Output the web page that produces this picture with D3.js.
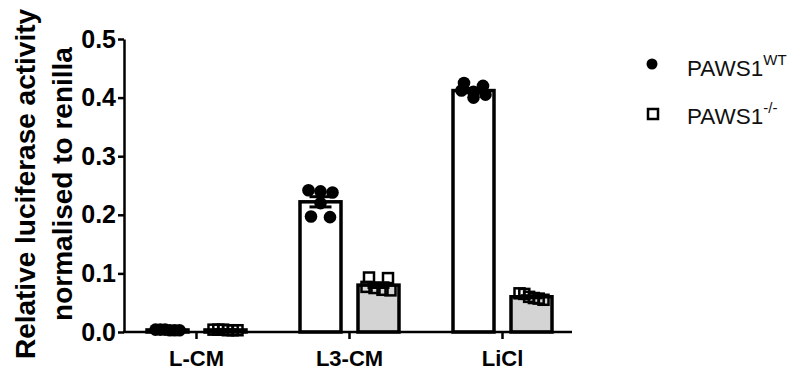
<!DOCTYPE html>
<html>
<head>
<meta charset="utf-8">
<script src="https://cdn.jsdelivr.net/npm/d3@7"></script>
<style>
  body { margin: 0; background: #fff; }
  svg { font-family: Arial, "Liberation Sans", sans-serif; }
</style>
</head>
<body>
<svg width="805" height="376"></svg>
<script>
// categories and genotypes
var categories = ["L-CM", "L3-CM", "LiCl"];
var genotypes = ["WT", "KO"];
var yTicks = [0.0, 0.1, 0.2, 0.3, 0.4, 0.5];

// replicate values
var wtValues = [
	[0.004, 0.003, 0.004, 0.003, 0.003, 0.004],
	[0.242, 0.240, 0.238, 0.220, 0.197, 0.196],
	[0.425, 0.420, 0.412, 0.410, 0.405, 0.400]
];
var koValues = [
	[0.004, 0.003, 0.004, 0.003, 0.004, 0.003],
	[0.093, 0.092, 0.077, 0.075, 0.072, 0.071],
	[0.066, 0.065, 0.060, 0.058, 0.057, 0.055]
];

var svg = d3.select("svg");

var y = d3.scaleLinear().domain([0, 0.5]).range([332, 39]);

var x = d3.scaleBand().domain(categories).range([120, 579]);

var xSub = d3.scaleBand().domain(genotypes).range([27, 126]).paddingInner(0.293);

// build the groups
var groups = [];
categories.forEach(function (c, i) {
	genotypes.forEach(function (g) {
		var vals = g === "WT" ? wtValues[i] : koValues[i];
		var mean = d3.mean(vals);
		var sem = d3.deviation(vals) / Math.sqrt(vals.length);
		groups.push({cat: c, geno: g, vals: vals, mean: mean, sem: sem});
	});
});

function barX(d) { return x(d.cat) + xSub(d.geno); }
function barCx(d) { return barX(d) + xSub.bandwidth() / 2; }

// bars
svg.append("g").selectAll("rect")
	.data(groups)
	.enter()
	.append("rect")
	.attr("x", barX)
	.attr("width", xSub.bandwidth())
	.attr("y", function (d) { return y(d.mean); })
	.attr("height", function (d) { return y(0) - y(d.mean); })
	.attr("fill", function (d) { return d.geno === "WT" ? "#fff" : "#d4d4d4"; })
	.attr("stroke", "#000")
	.attr("stroke-width", 3.5);

// spread points sideways in rows (like a scatter dot plot)
function spread(d) {
	var sorted = d.vals.slice().sort(function (a, b) { return b - a; });
	var rows = [];
	sorted.forEach(function (v) {
		var last = rows[rows.length - 1];
		if (last && Math.abs(y(last[0]) - y(v)) < 7) {
			last.push(v);
		} else {
			rows.push([v]);
		}
	});
	var pts = [];
	rows.forEach(function (r) {
		var step = r.length > 1 ? Math.min(19, 24 / (r.length - 1)) : 0;
		r.forEach(function (v, j) {
			pts.push({x: barCx(d) + (j - (r.length - 1) / 2) * step, y: y(v), geno: d.geno});
		});
	});
	return pts;
}

var points = [];
groups.forEach(function (d) { points = points.concat(spread(d)); });

// error bars (mean +/- SEM)
var err = svg.append("g").attr("stroke", "#000").attr("stroke-width", 3);
groups.forEach(function (d) {
	var cx = barCx(d);
	err.append("line")
		.attr("x1", cx).attr("x2", cx)
		.attr("y1", y(d.mean - d.sem)).attr("y2", y(d.mean + d.sem));
	[d.mean - d.sem, d.mean + d.sem].forEach(function (v) {
		err.append("line")
			.attr("x1", cx - 11).attr("x2", cx + 11)
			.attr("y1", y(v)).attr("y2", y(v));
	});
});

// dots and squares
var pg = svg.append("g");
pg.selectAll("circle")
	.data(points.filter(function (p) { return p.geno === "WT"; }))
	.enter()
	.append("circle")
	.attr("cx", function (p) { return p.x; })
	.attr("cy", function (p) { return p.y; })
	.attr("r", 6.3)
	.attr("fill", "#000");

pg.selectAll("rect")
	.data(points.filter(function (p) { return p.geno === "KO"; }))
	.enter()
	.append("rect")
	.attr("x", function (p) { return p.x - 5; })
	.attr("y", function (p) { return p.y - 5; })
	.attr("width", 10)
	.attr("height", 10)
	.attr("fill", "none")
	.attr("stroke", "#000")
	.attr("stroke-width", 2.5);

// y axis
var yAxis = svg.append("g")
	.attr("transform", "translate(124,0)")
	.call(d3.axisLeft(y).tickValues(yTicks).tickFormat(d3.format(".1f")).tickSize(6).tickSizeOuter(0).tickPadding(2));
yAxis.selectAll("path, line").attr("stroke", "#000").attr("stroke-width", 2.5);
yAxis.selectAll("text")
	.attr("font-size", 25)
	.attr("font-weight", "bold")
	.attr("fill", "#000")
	.attr("font-family", "Arial, 'Liberation Sans', sans-serif");

// x axis
var xAxis = svg.append("g")
	.attr("transform", "translate(0,332)")
	.call(d3.axisBottom(x).tickSize(7).tickSizeOuter(0).tickPadding(11));
xAxis.select(".domain").attr("d", "M123,0H572");
xAxis.selectAll("path, line").attr("stroke", "#000").attr("stroke-width", 2.5);
xAxis.selectAll("text")
	.attr("font-size", 22)
	.attr("font-weight", "bold")
	.attr("fill", "#000")
	.attr("font-family", "Arial, 'Liberation Sans', sans-serif");

// y title
var title = svg.append("text")
	.attr("transform", "translate(25,184) rotate(-90)")
	.attr("text-anchor", "middle")
	.attr("font-size", 28)
	.attr("font-weight", "bold");
title.append("tspan").attr("x", 0).attr("dy", "0.36em").text("Relative luciferase activity");
title.append("tspan").attr("x", 0).attr("dy", 37).text("normalised to renilla");

// legend
var legend = svg.append("g");
legend.append("circle").attr("cx", 652).attr("cy", 64).attr("r", 5.5).attr("fill", "#000");
legend.append("rect").attr("x", 648).attr("y", 109).attr("width", 10).attr("height", 10)
	.attr("fill", "none").attr("stroke", "#000").attr("stroke-width", 2.5);

var l1 = legend.append("text").attr("x", 687).attr("y", 76).attr("font-size", 22.5).attr("fill", "#111");
l1.append("tspan").text("PAWS1");
l1.append("tspan").attr("font-size", 15).attr("dy", -11).text("WT");

var l2 = legend.append("text").attr("x", 687).attr("y", 124).attr("font-size", 22.5).attr("fill", "#111");
l2.append("tspan").text("PAWS1");
l2.append("tspan").attr("font-size", 15).attr("dy", -11).text("-/-");
</script>
</body>
</html>
